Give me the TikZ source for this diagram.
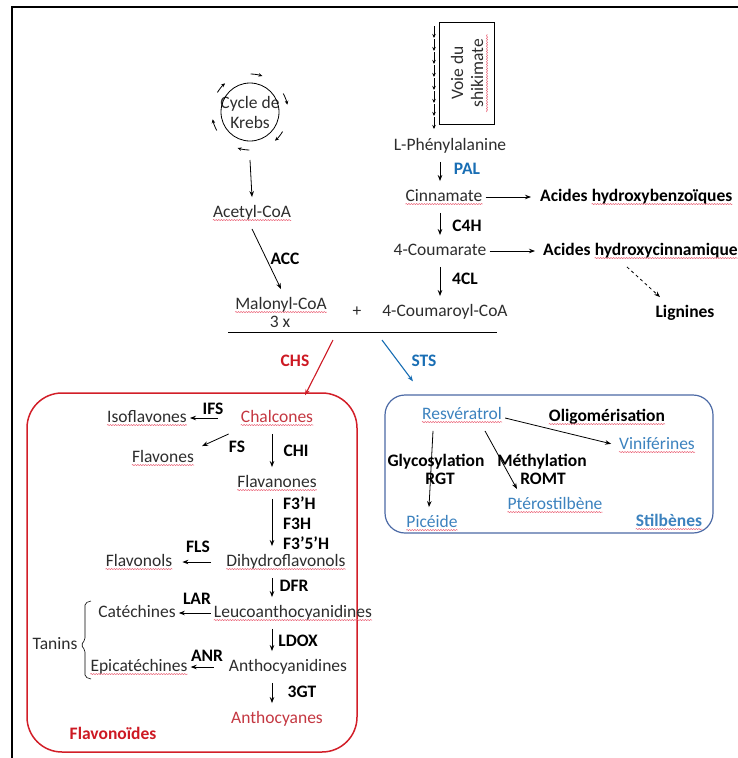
\documentclass[tikz,border=0pt]{standalone}
\usepackage{fontspec}
\setmainfont{Carlito}
\usetikzlibrary{arrows.meta, decorations.pathmorphing}
\definecolor{txtgrey}{RGB}{45,45,45}
\definecolor{redtxt}{RGB}{196,55,65}
\definecolor{flavred}{RGB}{205,25,35}
\definecolor{boxred}{RGB}{210,30,40}
\definecolor{bluetxt}{RGB}{60,130,190}
\definecolor{palblue}{RGB}{25,110,180}
\definecolor{boxblue}{RGB}{75,105,165}
\definecolor{spellred}{RGB}{235,100,120}
\tikzset{
  mol/.style={text=txtgrey},
  enz/.style={font=\fontsize{17.5}{20}\selectfont\bfseries, text=black},
  tiny/.style={line width=0.8pt, -{Stealth[length=4pt,width=3.5pt]}},
  spellline/.style={draw=spellred, line width=0.5pt, decorate, decoration={snake, amplitude=0.6pt, segment length=2.6pt}},
  spell/.style={append after command={([xshift=3pt,yshift=-2.8pt]\tikzlastnode.base west) edge[spellline] ([xshift=-3pt,yshift=-2.8pt]\tikzlastnode.base east)}}
}
\begin{document}
\begin{tikzpicture}[x=1pt, y=-1pt, >={Stealth[length=6pt,width=4.5pt]},
  every node/.style={font=\fontsize{17.5}{20}\selectfont, inner xsep=3pt, inner ysep=7pt, text height=13pt, text depth=4.5pt}]
  \useasboundingbox (0,0) rectangle (738,758);
  \draw[line width=1.8pt] (12,758) -- (12,7) -- (738,7);

  \node[mol, draw, line width=0.8pt, rotate=90, align=center, minimum width=102, minimum height=55, inner sep=2pt, text height=, text depth=] (shik) at (467,73) {Voie du\\shikimate};
  \draw[spellline] (487,112) -- (487,34);
  \node[mol] (phe) at (450,146) {L-Phénylalanine};
  \node[mol, spell] (cin) at (444,197) {Cinnamate};
  \node[mol] (cou) at (440,251) {4-Coumarate};
  \node[mol] (coa) at (445,312) {4-Coumaroyl-CoA};
  \node[enz, anchor=west] (hbza) at (537,197) {Acides};
  \node[enz, spell, anchor=base west] (hbz) at ([xshift=-2.2]hbza.base east) {hydroxybenzoïques};
  \node[enz, anchor=west] (hcina) at (540,251) {Acides};
  \node[enz, spell, anchor=base west] (hcin) at ([xshift=-2.2]hcina.base east) {hydroxycinnamique};
  \node[enz] (lig) at (685,313) {Lignines};
  \node[enz, text=palblue] (pal) at (467,170) {PAL};
  \node[enz] (c4h) at (467,227) {C4H};
  \node[enz] (fcl) at (465,280) {4CL};

  \node[mol, align=center, text height=, text depth=, inner sep=0pt] (krebs) at (250,112) {Cycle de\\Krebs};
  \draw[line width=0.8pt] (krebs.center) circle (29);
  \foreach \a in {-140,-80,-20,40,100,160}
    \draw[tiny] ([shift={(\a-9:38)}]krebs.center) arc[start angle=\a-9, end angle=\a+9, radius=38];
  \node[mol, spell] (acet) at (252,213) {Acetyl-CoA};
  \node[mol, spell] (mal) at (281,305) {Malonyl-CoA};
  \node[mol] (three) at (280,323) {3 x};
  \node[mol] (plus) at (357,312) {+};
  \node[enz] (acc) at (285,260) {ACC};
  \coordinate (bl) at (228,332);
  \coordinate (br) at (497,332);

  \foreach \y in {26,39,...,117}
    \draw[tiny] (434,\y) -- (434,\y+12);
  \begin{scope}[line width=0.8pt]
  \draw[->] (phe.south -| cou) -- (cin.north -| cou);
  \draw[->] (cin.south -| cou) -- (cou);
  \draw[->] (cou) -- (coa.north -| cou);
  \draw[->, shorten >=6pt] (cin) -- (hbza);
  \draw[->, shorten >=5pt] (cou) -- (hcina);
  \draw[->, dashed] ([xshift=87]hcina.south west) -- ([xshift=-25]lig.north);
  \draw[->] ([yshift=-48]krebs.center) -- (acet.north);
  \draw[->] (acet.south) -- (mal.north);
  \draw (bl) -- (br);
  \end{scope}

  \node[draw=boxred, line width=1.5pt, rounded corners=35, minimum width=330, minimum height=359] (flavbox) at (192,572.5) {};
  \node[draw=boxblue, line width=1.2pt, rounded corners=20, minimum width=328, minimum height=138] (stilbox) at (549,464) {};
  \node[enz, text=flavred] (chs) at (295,362) {CHS};
  \node[enz, text=palblue] (sts) at (424,362) {STS};
  \coordinate (chs0) at (333,340);
  \coordinate (sts0) at (382,340);
  \draw[->, flavred, line width=1.1pt] (chs0) -- ([xshift=113,yshift=-3]flavbox.north);
  \draw[->, palblue, line width=1.1pt] (sts0) -- ([xshift=-136,yshift=13]stilbox.north);

  \coordinate (fx) at (272,0);
  \node[mol, spell, text=redtxt] (chal) at (277,418) {Chalcones};
  \node[mol, spell] (iso) at (147,418) {Isoflavones};
  \node[mol, spell] (flavo) at (163,458) {Flavones};
  \node[mol, spell] (flava) at (277,483) {Flavanones};
  \node[mol, spell] (dihy) at (286,562) {Dihydroflavonols};
  \node[mol, spell] (flol) at (139,562) {Flavonols};
  \node[mol, spell] (leuco) at (293,613) {Leucoanthocyanidines};
  \node[mol] (cat) at (137,613) {Catéchines};
  \node[mol] (antd) at (288,667) {Anthocyanidines};
  \node[mol, spell] (epi) at (139,667) {Epicatéchines};
  \node[mol, text=redtxt] (antc) at (277,719) {Anthocyanes};
  \node[enz, text=flavred] (flavlab) at (113,735) {Flavonoïdes};
  \node[mol] (tan) at (55,645) {Tanins};
  \node[enz] (ifs) at (213,410) {IFS};
  \node[enz] (fs) at (237,448) {FS};
  \node[enz] (chi) at (296,452) {CHI};
  \node[enz, anchor=west] (f3ph) at (280,505) {F3’H};
  \node[enz, anchor=west] (f3h) at (280,525) {F3H};
  \node[enz, anchor=west] (f35h) at (280,545) {F3’5’H};
  \node[enz] (fls) at (198,548) {FLS};
  \node[enz] (dfr) at (294,587) {DFR};
  \node[enz] (lar) at (197,600) {LAR};
  \node[enz] (ldox) at (298,642) {LDOX};
  \node[enz] (anr) at (207,657) {ANR};
  \node[enz] (tgt) at (302,693) {3GT};

  \begin{scope}[line width=0.8pt]
  \draw[->, shorten <=20pt] (chal) -- (iso);
  \draw[->] ([xshift=-9]chal.south west) -- ([xshift=5,yshift=-4]flavo.north east);
  \draw[->] (chal.south -| fx) -- (flava.north -| fx);
  \draw[->] (flava.south -| fx) -- (dihy.north -| fx);
  \draw[->, shorten <=12pt, shorten >=7pt] (dihy) -- (flol);
  \draw[->] (dihy.south -| fx) -- (leuco.north -| fx);
  \draw[->] (leuco) -- (cat);
  \draw[->] (leuco.south -| fx) -- (antd.north -| fx);
  \draw[->, shorten <=12pt] (antd) -- (epi);
  \draw[->] (antd.south -| fx) -- (antc.north -| fx);
  \end{scope}
  \draw[line width=0.6pt, rounded corners=2pt] (91,601) -- (85,603) -- (85,640) -- (81,645) -- (85,650) -- (85,677) -- (91,679);

  \node[mol, spell, text=bluetxt] (resv) at (462,415) {Resvératrol};
  \node[enz, spell] (oligo) at (607,417) {Oligomérisation};
  \node[mol, spell, text=bluetxt] (vini) at (657,445) {Viniférines};
  \node[enz] (glyc) at (436,462) {Glycosylation};
  \node[enz] (rgt) at (440,480) {RGT};
  \node[enz] (meth) at (542,462) {Méthylation};
  \node[enz] (romt) at (543,480) {ROMT};
  \node[mol, spell, text=bluetxt] (pter) at (555,505) {Ptérostilbène};
  \node[mol, spell, text=bluetxt] (pic) at (432,523) {Picéide};
  \node[enz, spell, text=bluetxt] (stil) at (669,522) {Stilbènes};

  \begin{scope}[line width=0.8pt]
  \draw[->, shorten >=5pt] ([yshift=-3]resv.east) -- (vini.west);
  \draw[->] ([xshift=-29]resv.south) -- ([xshift=-3]pic.north);
  \draw[->] ([xshift=23]resv.south) -- ([xshift=-38]pter.north);
  \end{scope}
\end{tikzpicture}
\end{document}
